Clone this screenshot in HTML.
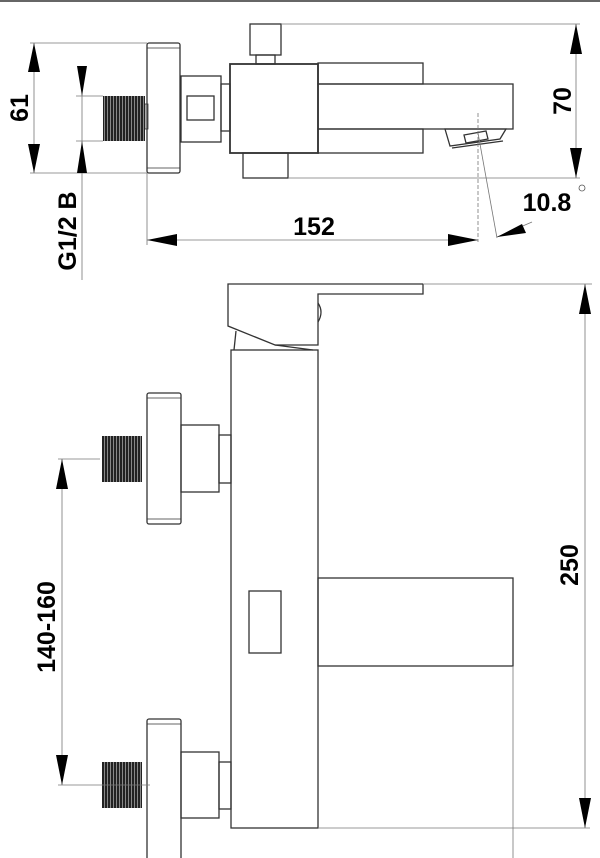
<!DOCTYPE html>
<html><head><meta charset="utf-8"><style>
html,body{margin:0;padding:0;background:#fff;width:600px;height:858px;overflow:hidden}
svg{display:block}
text{font-family:"Liberation Sans",sans-serif;font-weight:bold;fill:#000}
</style></head><body>
<svg width="600" height="858" viewBox="0 0 600 858" xmlns="http://www.w3.org/2000/svg">
<defs>
<pattern id="thr" width="3" height="4" patternUnits="userSpaceOnUse">
<rect width="3" height="4" fill="#222"/><rect x="2" width="1" height="4" fill="#888"/>
</pattern>
</defs>
<line x1="0" y1="1" x2="600" y2="1" stroke="#666" stroke-width="2"/>

<!-- ===== TOP VIEW ===== -->
<g fill="none" stroke="#333" stroke-width="1.3">
<rect x="147" y="43" width="33" height="130" rx="2"/>
<line x1="147" y1="48" x2="180" y2="48" stroke-width="0.8"/>
<line x1="147" y1="168" x2="180" y2="168" stroke-width="0.8"/>
<rect x="181" y="76" width="40" height="66"/>
<rect x="187" y="96" width="27" height="24"/>
<rect x="221" y="84" width="9" height="47"/>
<rect x="230" y="64" width="88" height="89" stroke-width="1.8"/>
<rect x="250" y="24" width="31" height="31"/>
<rect x="256" y="55" width="19" height="9"/>
<rect x="243" y="153" width="45" height="25"/>
<rect x="318" y="63" width="105" height="21"/>
<rect x="318" y="129" width="105" height="24"/>
<rect x="318" y="84" width="195" height="45"/>
<polygon points="445,129 450,146 500,139 506,129"/>
<polygon points="464,135 486,131 488,139 466,143"/>
<line x1="452" y1="148" x2="503" y2="141"/>
<rect x="145" y="104" width="3" height="25" stroke-width="0.8"/>
</g>
<rect x="103" y="96" width="42" height="45" fill="url(#thr)"/>
<!-- dims top -->
<g stroke="#777" stroke-width="0.8" fill="none">
<line x1="30" y1="43" x2="147" y2="43"/>
<line x1="30" y1="173" x2="147" y2="173"/>
<line x1="76" y1="96" x2="103" y2="96"/>
<line x1="76" y1="141" x2="103" y2="141"/>
<line x1="34" y1="43" x2="34" y2="173"/>
<line x1="82" y1="66" x2="82" y2="280"/>
<line x1="281" y1="24" x2="580" y2="24"/>
<line x1="288" y1="178" x2="580" y2="178"/>
<line x1="576" y1="24" x2="576" y2="178"/>
<line x1="147" y1="173" x2="147" y2="245"/>
<line x1="147" y1="240" x2="478" y2="240"/>
<line x1="478" y1="113" x2="478" y2="242" stroke-dasharray="4,2"/>
<line x1="478" y1="133" x2="497" y2="238"/>
<line x1="497" y1="237" x2="532" y2="222"/>
</g>
<g fill="#000">
<polygon points="34,43 28,72 40,72"/><polygon points="34,173 28,144 40,144"/>
<polygon points="82,96 77,66 87,66"/><polygon points="82,141 77,173 87,173"/>
<polygon points="576,24 570,54 582,54"/><polygon points="576,178 570,148 582,148"/>
<polygon points="147,240 177,234 177,246"/><polygon points="478,240 448,234 448,246"/>
<polygon points="497,237 522,224 526,233"/>
</g>
<text x="0" y="0" font-size="25" text-anchor="middle" transform="translate(28,108) rotate(-90)">61</text>
<text x="0" y="0" font-size="25" text-anchor="middle" transform="translate(76,231) rotate(-90)">G1/2 B</text>
<text x="0" y="0" font-size="25" text-anchor="middle" transform="translate(571,101) rotate(-90)">70</text>
<text x="314" y="235" font-size="25" text-anchor="middle">152</text>
<text x="547" y="211" font-size="25" text-anchor="middle">10.8</text>
<circle cx="582" cy="188" r="3" fill="none" stroke="#555" stroke-width="0.8"/>

<!-- ===== FRONT VIEW ===== -->
<g fill="none" stroke="#333" stroke-width="1.3">
<polyline points="423,284 228,284 228,326 275,345 318,345 318,294 423,294 423,284"/>
<path d="M318,303 q6,9 0,19"/>
<line x1="236" y1="331" x2="234" y2="350"/>
<line x1="275" y1="345" x2="313" y2="350"/>
<rect x="231" y="350" width="87" height="478"/>
<rect x="249" y="591" width="32" height="62"/>
<rect x="318" y="578" width="195" height="88"/>
<rect x="147" y="393" width="34" height="131" rx="2"/>
<line x1="147" y1="398" x2="181" y2="398" stroke-width="0.8"/>
<line x1="147" y1="519" x2="181" y2="519" stroke-width="0.8"/>
<rect x="181" y="425" width="38" height="67"/>
<rect x="219" y="435" width="12" height="48"/>
<rect x="147" y="719" width="34" height="141" rx="2"/>
<line x1="147" y1="724" x2="181" y2="724" stroke-width="0.8"/>
<rect x="181" y="752" width="38" height="66"/>
<rect x="219" y="762" width="12" height="47"/>
</g>
<rect x="102" y="436" width="40" height="46" fill="url(#thr)"/>
<rect x="102" y="762" width="40" height="46" fill="url(#thr)"/>
<g stroke="#777" stroke-width="0.8" fill="none">
<line x1="423" y1="284" x2="592" y2="284"/>
<line x1="318" y1="828" x2="590" y2="828"/>
<line x1="513" y1="666" x2="513" y2="858"/>
<line x1="585" y1="284" x2="585" y2="828"/>
<line x1="58" y1="459" x2="100" y2="459"/>
<line x1="58" y1="785" x2="150" y2="785"/>
<line x1="62" y1="459" x2="62" y2="785"/>
</g>
<g fill="#000">
<polygon points="585,284 579,314 591,314"/><polygon points="585,828 579,798 591,798"/>
<polygon points="62,459 56,489 68,489"/><polygon points="62,785 56,755 68,755"/>
</g>
<text x="0" y="0" font-size="25" text-anchor="middle" transform="translate(578,565) rotate(-90)">250</text>
<text x="0" y="0" font-size="25" text-anchor="middle" transform="translate(55,627) rotate(-90)">140-160</text>
</svg>
</body></html>
